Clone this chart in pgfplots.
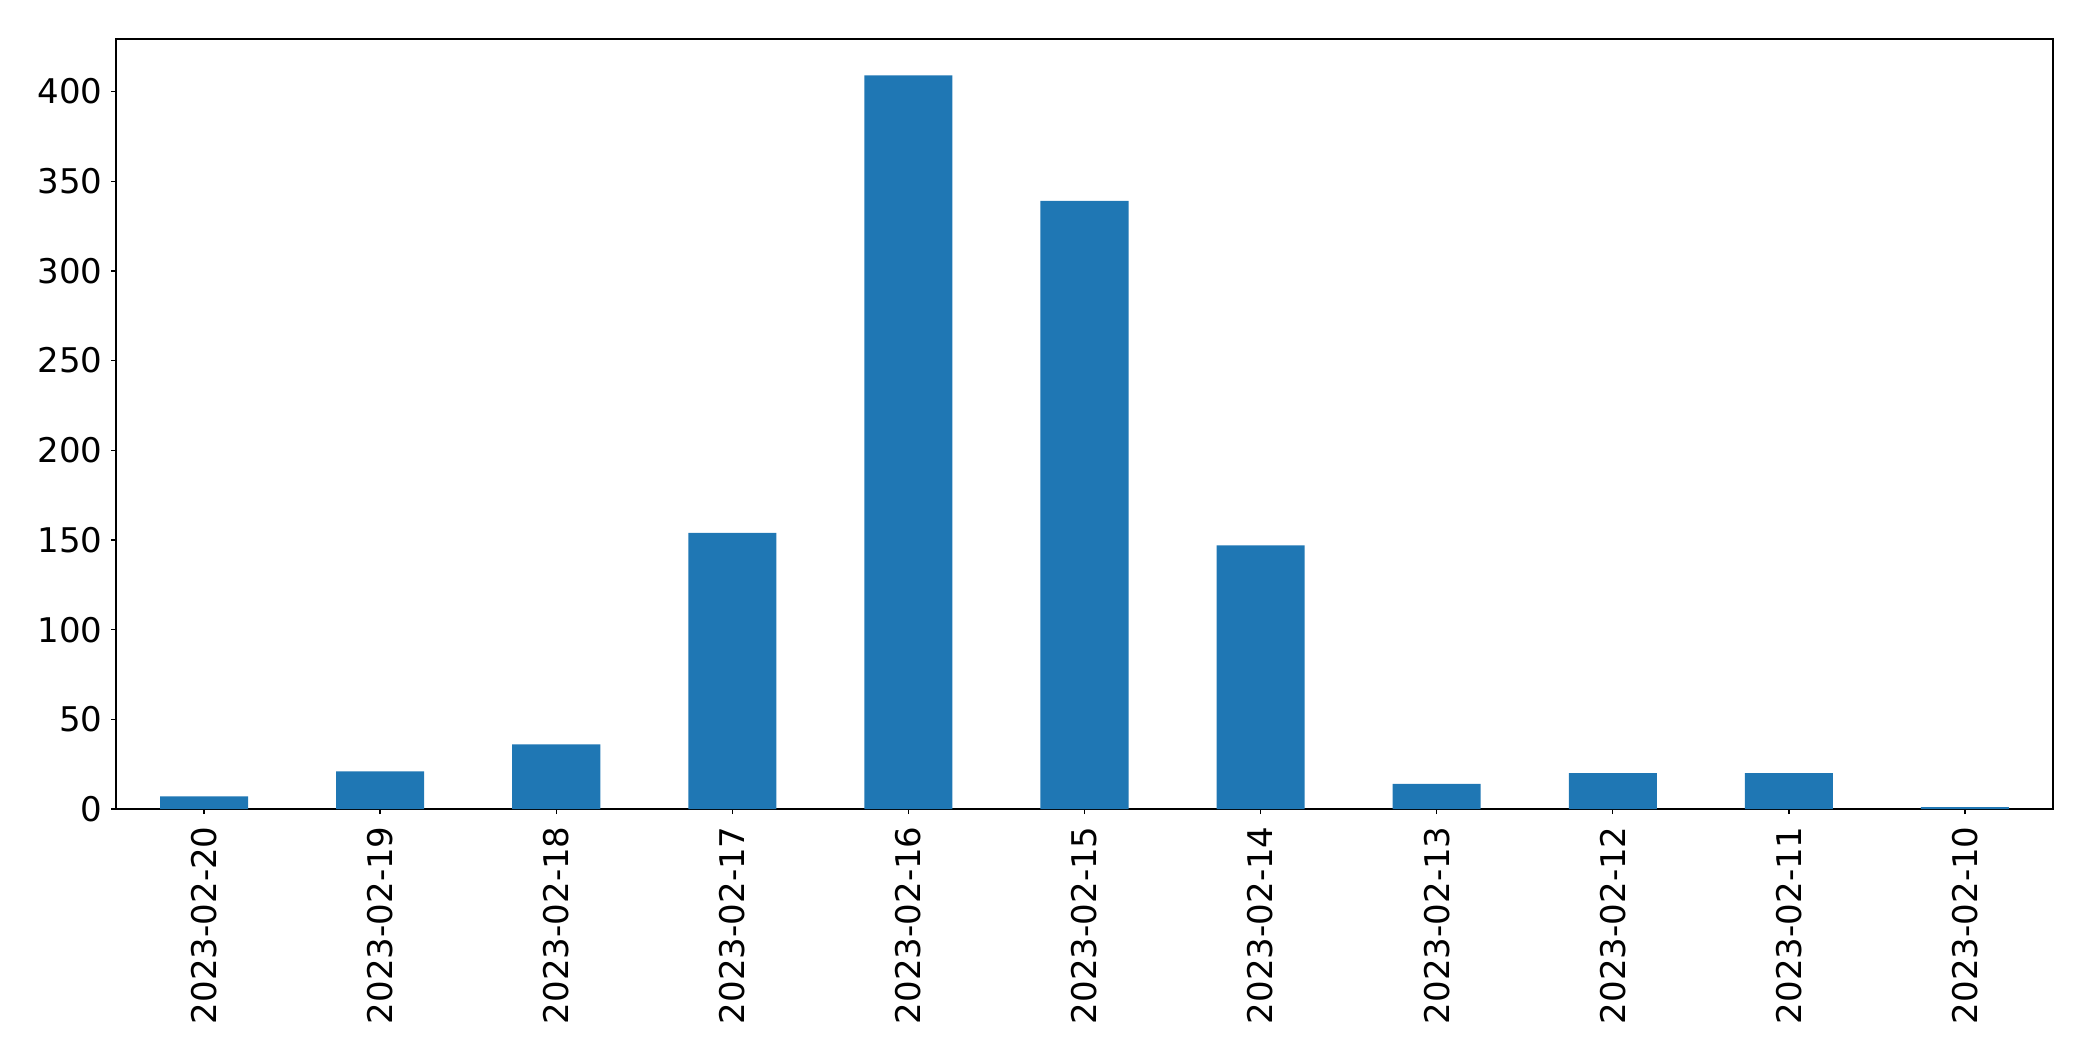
\documentclass[border=0pt]{standalone}
\usepackage{pgfplots}
\pgfplotsset{compat=1.18}
\usepackage{fontspec}
\setmainfont{DejaVu Sans}
\definecolor{mplblue}{HTML}{1F77B4}
\begin{document}
\fontsize{17}{20}\selectfont
\begin{tikzpicture}
\path[use as bounding box] (-58pt,-126pt) rectangle (988.5pt,404.5pt);
\begin{axis}[
  at={(0,0)}, anchor=south west,
  scale only axis, width=968.5pt, height=385pt,
  xmin=-0.5, xmax=10.5, ymin=0, ymax=429.3,
  xtick={0,...,10},
  xticklabels={2023-02-20,2023-02-19,2023-02-18,2023-02-17,2023-02-16,2023-02-15,2023-02-14,2023-02-13,2023-02-12,2023-02-11,2023-02-10},
  ytick={0,50,...,400},
  tick align=outside, tick pos=left,
  major tick length=2.5pt,
  tick style={black, line width=0.7pt},
  axis line style={black, line width=0.7pt},
  xticklabel style={rotate=90, anchor=east, inner sep=0pt, font=\fontsize{17}{20}\selectfont},
  yticklabel style={inner sep=0pt, font=\fontsize{17}{20}\selectfont},
  xticklabel shift=6pt,
  yticklabel shift=4pt,
  /pgf/number format/assume math mode=true,
  /pgf/number format/1000 sep={},
  ybar, bar width=0.5,
]
\addplot[fill=mplblue, draw=none] coordinates {
  (0,7) (1,21) (2,36) (3,154) (4,409) (5,339) (6,147) (7,14) (8,20) (9,20) (10,1)
};
\end{axis}
\end{tikzpicture}
\end{document}
